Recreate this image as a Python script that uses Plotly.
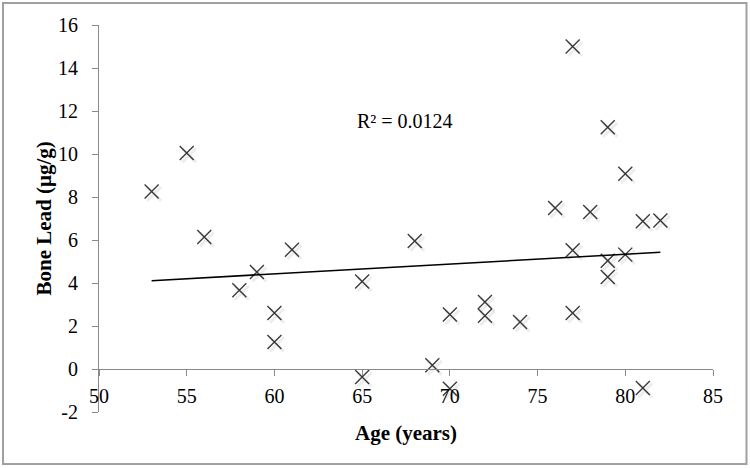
import numpy as np
import plotly.graph_objects as go

# Data
age = [53, 55, 56, 58, 59, 60, 60, 61, 65, 65, 68, 69, 70, 70, 72, 72, 74,
       76, 77, 77, 77, 78, 79, 79, 79, 80, 80, 81, 81, 82]
bone_lead = [8.26, 10.05, 6.14, 3.66, 4.51, 2.6, 1.26, 5.55, 4.07, -0.37, 5.95,
             0.17, 2.53, -0.92, 3.12, 2.48, 2.19, 7.49, 15.0, 5.52, 2.6, 7.3,
             11.24, 5.04, 4.28, 9.08, 5.32, 6.87, -0.88, 6.91]
x_ticks = [50, 55, 60, 65, 70, 75, 80, 85]
y_ticks = [-2, 0, 2, 4, 6, 8, 10, 12, 14, 16]
y_tick_text = ["-2", "0", "2", "4", "6", "8", "10", "12", "14", "16"]
r2_label = "R² = 0.0124"

# Linear trendline from the data
slope, intercept = np.polyfit(age, bone_lead, 1)
trend_x = [min(age), max(age)]
trend_y = [slope * v + intercept for v in trend_x]

W, H = 750, 468
ML, MR, MT, MB = 99, 37, 25, 56
PW, PH = W - ML - MR, H - MT - MB
X_RANGE = [50, 85]
Y_RANGE = [-2, 16]

FONT = "Liberation Serif"
AXIS_GRAY = "#8a8a8a"

# shadow offset in data units (about 2.5 px right / down)
sx = 2.5 * (X_RANGE[1] - X_RANGE[0]) / PW
sy = 2.5 * (Y_RANGE[1] - Y_RANGE[0]) / PH

fig = go.Figure()

# soft shadow of markers (same data, drawn on shifted invisible axes)
fig.add_trace(go.Scatter(
    x=age, y=bone_lead, mode="markers", xaxis="x2", yaxis="y2",
    marker=dict(symbol="x-thin", size=14,
                line=dict(width=3, color="rgba(0,0,0,0.07)")),
    hoverinfo="skip", showlegend=False))

fig.add_trace(go.Scatter(
    x=age, y=bone_lead, mode="markers",
    marker=dict(symbol="x-thin", size=14,
                line=dict(width=1.4, color="#3c3c3c")),
    showlegend=False))

fig.add_trace(go.Scatter(
    x=trend_x, y=trend_y, mode="lines",
    line=dict(color="black", width=1.5), showlegend=False))

fig.update_layout(
    width=W, height=H,
    margin=dict(l=ML, r=MR, t=MT, b=MB),
    paper_bgcolor="white", plot_bgcolor="white",
    font=dict(family=FONT, size=20, color="black"),
    xaxis=dict(range=X_RANGE, tickvals=x_ticks, showgrid=False, zeroline=False,
               showline=True, linecolor=AXIS_GRAY, linewidth=1,
               ticks="outside", ticklen=6, tickcolor=AXIS_GRAY,
               anchor="free", position=2 / 18, side="bottom",
               ticklabelstandoff=3,
               tickfont=dict(family=FONT, size=20, color="black")),
    yaxis=dict(range=Y_RANGE, tickvals=y_ticks, ticktext=y_tick_text,
               showgrid=False, zeroline=False,
               showline=True, linecolor=AXIS_GRAY, linewidth=1,
               ticks="outside", ticklen=6, tickcolor=AXIS_GRAY,
               ticklabelstandoff=10,
               tickfont=dict(family=FONT, size=20, color="black")),
    xaxis2=dict(range=[X_RANGE[0] - sx, X_RANGE[1] - sx], overlaying="x",
                anchor="y2", visible=False, showgrid=False, zeroline=False),
    yaxis2=dict(range=[Y_RANGE[0] + sy, Y_RANGE[1] + sy], overlaying="y",
                anchor="x2", visible=False, showgrid=False, zeroline=False),
    annotations=[
        dict(text="<b>Age (years)</b>", xref="paper", yref="paper",
             x=0.5, y=(PH - (433 - MT)) / PH, showarrow=False,
             font=dict(family=FONT, size=21, color="black"),
             xanchor="center", yanchor="middle"),
        dict(text="<b>Bone Lead (μg/g)</b>", xref="paper", yref="paper",
             x=(43 - ML) / PW, y=0.5, textangle=-90, showarrow=False,
             font=dict(family=FONT, size=21, color="black"),
             xanchor="center", yanchor="middle"),
        dict(text=r2_label, xref="paper", yref="paper",
             x=(405 - ML) / PW, y=(PH - (121 - MT)) / PH, showarrow=False,
             font=dict(family=FONT, size=20, color="black"),
             xanchor="center", yanchor="middle"),
    ],
    shapes=[
        dict(type="rect", xref="paper", yref="paper",
             x0=(3 - ML) / PW, x1=(746.5 - ML) / PW,
             y0=(PH - (464 - MT)) / PH, y1=(PH - (3 - MT)) / PH,
             line=dict(color="#a0a0a0", width=2), fillcolor="rgba(0,0,0,0)",
             layer="below"),
    ],
)

fig.write_html("out.html",
               config={"displayModeBar": False},
               post_script="document.body.style.margin='0px';"
                           "document.body.style.overflow='hidden';")
